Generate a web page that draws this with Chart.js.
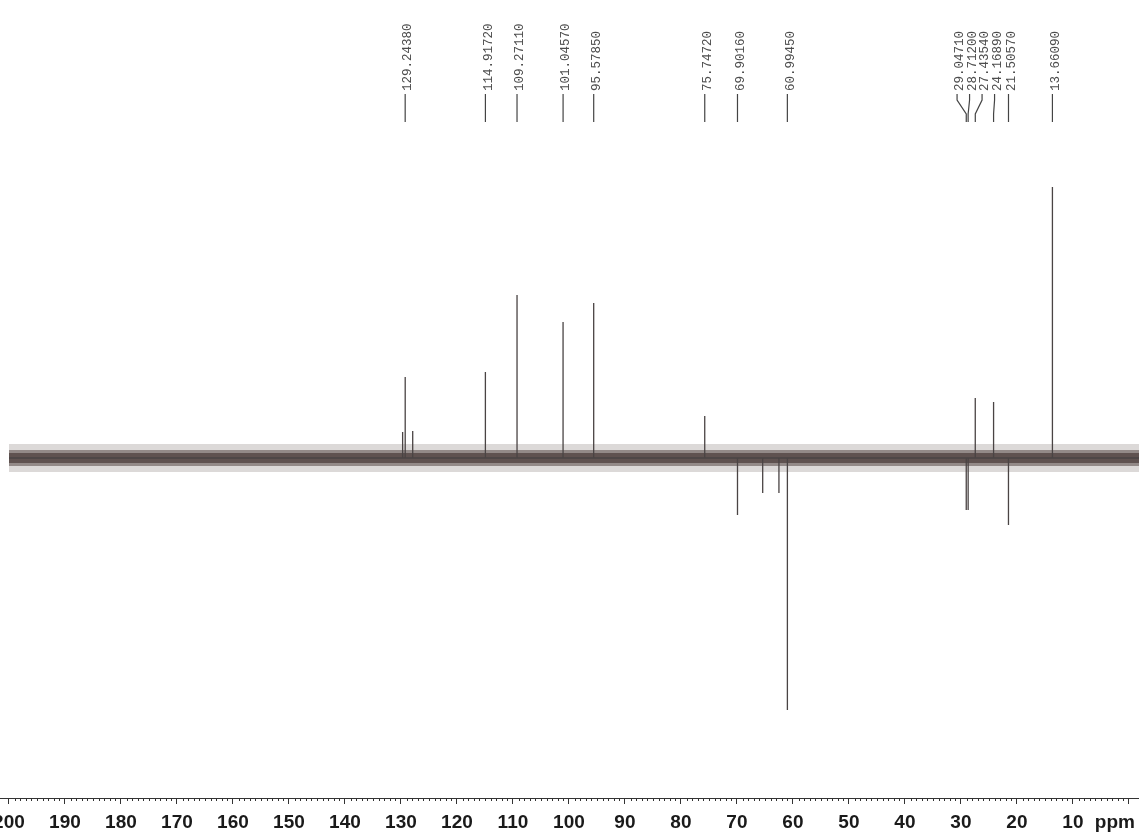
<!DOCTYPE html>
<html lang="en">
<head>
  <meta charset="UTF-8" />
  <title>13C DEPT spectrum</title>
  <script src="https://cdn.jsdelivr.net/npm/chart.js"></script>
  <style>
    html, body { margin: 0; padding: 0; background: #fff; }
    .wrap { width: 1139px; height: 834px; position: relative; }
  </style>
</head>
<body>
  <div class="wrap"><canvas id="spec"></canvas></div>

  <script>
    // peak positions (ppm) and signed heights (baseline = 0, DEPT phase up/down)
    const peakPpm    = [129.7, 129.24, 127.9, 114.92, 109.27, 101.05, 95.58, 75.75, 69.90, 65.4, 62.5, 60.99, 29.05, 28.71, 27.44, 24.17, 21.51, 13.66];
    const peakHeight = [26,    81,     27,    86,     163,    136,    155,   42,    -57,   -35,  -35,  -252,  -52,   -52,   60,    56,    -67,   271];

    // printed peak picks above the spectrum
    const labelText = ["129.24380", "114.91720", "109.27110", "101.04570", "95.57850", "75.74720", "69.90160",
                       "60.99450", "29.04710", "28.71200", "27.43540", "24.16890", "21.50570", "13.66090"];

    // x range of the plot and the noise envelope of the baseline
    const ppmLeft = 201.6;
    const ppmRight = -1.8;
    const noiseStart = 200;
    const noiseCore = 5;
    const noiseInner = 8;
    const noiseOuter = 14;

    // build the trace: baseline with sticks for each peak
    const trace = [{ x: noiseStart, y: 0 }];
    peakPpm.forEach((p, i) => {
      trace.push({ x: p, y: 0 }, { x: p, y: peakHeight[i] }, { x: p, y: 0 });
    });
    trace.push({ x: ppmRight, y: 0 });

    const band = (v) => [{ x: noiseStart, y: v }, { x: ppmRight, y: v }];

    // spread crowded labels apart, keeping each group centred on its peaks
    function spreadLabels(xs, gap) {
      let groups = xs.map((x, i) => ({ items: [i], center: x }));
      let merged = true;
      while (merged) {
        merged = false;
        for (let g = 0; g < groups.length - 1; g++) {
          const a = groups[g], b = groups[g + 1];
          const aEnd = a.center + (a.items.length - 1) * gap / 2;
          const bStart = b.center - (b.items.length - 1) * gap / 2;
          if (bStart - aEnd < gap) {
            const items = a.items.concat(b.items);
            const center = items.reduce((s, i) => s + xs[i], 0) / items.length;
            groups.splice(g, 2, { items, center });
            merged = true;
            break;
          }
        }
      }
      const out = [];
      groups.forEach(g => g.items.forEach((i, k) => {
        out[i] = g.center + (k - (g.items.length - 1) / 2) * gap;
      }));
      return out;
    }

    const annotate = {
      id: 'annotate',
      afterDraw(chart) {
        const ctx = chart.ctx;
        const xs = chart.scales.x;
        const area = chart.chartArea;
        ctx.save();

        // minor ticks every 1 ppm
        ctx.strokeStyle = '#333';
        ctx.lineWidth = 1;
        ctx.beginPath();
        for (let v = 0; v <= 200; v++) {
          if (v % 10 === 0) continue;
          const px = Math.round(xs.getPixelForValue(v)) + 0.5;
          ctx.moveTo(px, area.bottom);
          ctx.lineTo(px, area.bottom + 3);
        }
        ctx.stroke();

        // unit
        ctx.fillStyle = '#1a1a1a';
        ctx.font = 'bold 19px "Liberation Sans", Arial, sans-serif';
        ctx.textAlign = 'center';
        ctx.textBaseline = 'alphabetic';
        ctx.fillText('ppm', xs.getPixelForValue(0) - 14, area.bottom + 30);

        // peak labels
        const peakX = labelText.map(t => xs.getPixelForValue(parseFloat(t)));
        const labX = spreadLabels(peakX, 12.5);
        ctx.strokeStyle = '#444';
        ctx.lineWidth = 1.2;
        ctx.fillStyle = '#4d4d4d';
        ctx.font = '12.5px "Liberation Mono", "DejaVu Sans Mono", monospace';
        labelText.forEach((t, i) => {
          const lx = labX[i], px = peakX[i];
          ctx.beginPath();
          ctx.moveTo(lx, 94);
          ctx.lineTo(lx, 100);
          ctx.lineTo(px, 114);
          ctx.lineTo(px, 122);
          ctx.stroke();
          ctx.save();
          ctx.translate(lx + 3, 91);
          ctx.rotate(-Math.PI / 2);
          ctx.textAlign = 'left';
          ctx.textBaseline = 'middle';
          ctx.fillText(t, 0, 0);
          ctx.restore();
        });
        ctx.restore();
      }
    };

    new Chart(document.getElementById('spec'), {
      type: 'line',
      data: {
        datasets: [
          { data: band(noiseOuter), borderWidth: 0, pointRadius: 0, fill: false, order: 4 },
          { data: band(-noiseOuter), borderWidth: 0, pointRadius: 0, fill: '-1',
            backgroundColor: 'rgba(95,80,78,0.22)', order: 4 },
          { data: band(noiseInner), borderWidth: 0, pointRadius: 0, fill: false, order: 3 },
          { data: band(-noiseInner), borderWidth: 0, pointRadius: 0, fill: '-1',
            backgroundColor: 'rgba(75,60,58,0.5)', order: 3 },
          { data: band(noiseCore), borderWidth: 0, pointRadius: 0, fill: false, order: 2 },
          { data: band(-noiseCore), borderWidth: 0, pointRadius: 0, fill: '-1',
            backgroundColor: 'rgba(60,45,43,0.6)', order: 2 },
          { data: trace, borderColor: '#4a4444', borderWidth: 1.3, pointRadius: 0,
            tension: 0, fill: false, order: 1 }
        ]
      },
      options: {
        responsive: true,
        maintainAspectRatio: false,
        animation: false,
        events: [],
        layout: { padding: 0 },
        plugins: { legend: { display: false }, tooltip: { enabled: false } },
        scales: {
          x: {
            type: 'linear',
            reverse: true,
            min: ppmRight,
            max: ppmLeft,
            afterBuildTicks(scale) {
              scale.ticks = scale.ticks.filter(t => Math.abs(t.value % 10) < 1e-6);
            },
            afterFit(scale) {
              scale.height = 36;
              scale.paddingLeft = 0;
              scale.paddingRight = 0;
            },
            ticks: {
              stepSize: 10,
              includeBounds: false,
              autoSkip: false,
              maxRotation: 0,
              padding: 7,
              color: '#1a1a1a',
              font: { family: '"Liberation Sans", Arial, sans-serif', size: 19, weight: 'bold' },
              callback: (v) => (v === 0 ? '' : v)
            },
            grid: { drawOnChartArea: false, tickLength: 6, color: '#333' },
            border: { display: true, color: '#333', width: 1 }
          },
          y: {
            display: false,
            min: -340,
            max: 458
          }
        }
      },
      plugins: [annotate]
    });
  </script>
</body>
</html>
